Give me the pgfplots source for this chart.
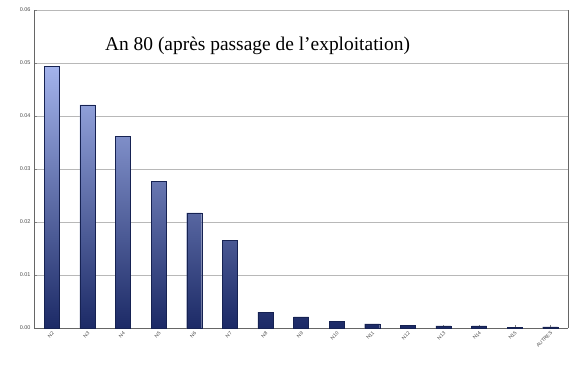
\documentclass[border=0pt]{standalone}
\usepackage{pgfplots}
\pgfplotsset{compat=1.18}
\usepackage{fontspec}
\setmainfont{Liberation Serif}
\newfontfamily\labfont{Liberation Sans}
\definecolor{barTop}{HTML}{A3B3EC}
\definecolor{barBot}{HTML}{1C2A66}
\definecolor{gridc}{HTML}{B8B8B8}
\begin{document}
\begin{tikzpicture}
\path[use as bounding box] (0,0) rectangle (572bp,369bp);
\begin{axis}[
  at={(34bp,41bp)}, anchor=south west,
  scale only axis, width=534bp, height=318bp,
  xmin=-0.5, xmax=14.5, ymin=0, ymax=0.06,
  ytick={0,0.01,0.02,0.03,0.04,0.05,0.06},
  yticklabel style={/pgf/number format/fixed,/pgf/number format/fixed zerofill,/pgf/number format/precision=2,font=\labfont\fontsize{5.5}{6}\selectfont,text=black!70},
  /pgf/number format/assume math mode=true,
  scaled y ticks=false,
  xtick={0,...,14},
  xticklabels={N2,N3,N4,N5,N6,N7,N8,N9,N10,N11,N12,N13,N14,N15,AUTRES},
  xticklabel style={rotate=45,anchor=north east,inner sep=2pt,font=\labfont\fontsize{5}{6}\selectfont,text=black!70},
  ymajorgrids, grid style={gridc,line width=0.6pt},
  axis line style={black!60},
  axis x line*=bottom, axis y line*=left,
  tick style={black!50},
  major tick length=3bp,
  clip=false,
]
\addplot[ybar, bar width=15bp, draw=barBot!80!black, line width=0.3pt,
  top color=barTop, bottom color=barBot] coordinates {
(0,0.0494) (1,0.0421) (2,0.0362) (3,0.0277) (4,0.0217) (5,0.0166)
(6,0.0030) (7,0.0021) (8,0.0013) (9,0.0008) (10,0.0005) (11,0.0004)
(12,0.0004) (13,0.0001) (14,0.0002)};
\node[anchor=west,font=\fontsize{19.5}{22}\selectfont] at (axis cs:1.4,0.0533) {An 80 (après passage de l'exploitation)};
\draw[black!60] (rel axis cs:1,0) -- (rel axis cs:1,1);
\end{axis}
\end{tikzpicture}
\end{document}
